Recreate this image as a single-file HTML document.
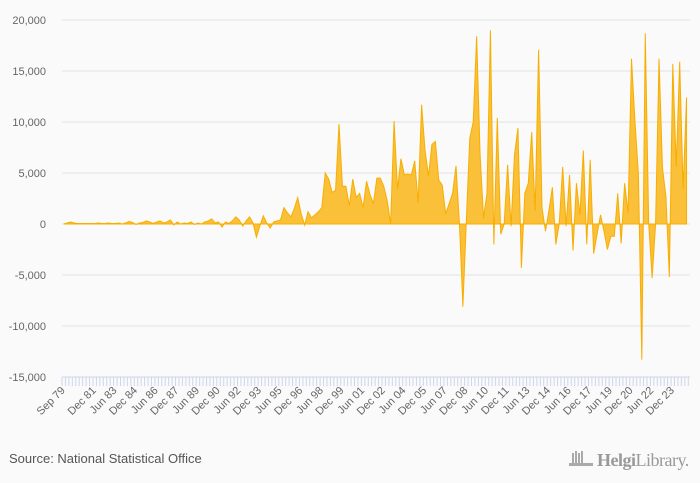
<!DOCTYPE html>
<html><head><meta charset="utf-8"><style>
body{margin:0;background:#fafafa;font-family:"Liberation Sans",sans-serif}
svg{display:block}
</style></head><body>
<svg id="chart" width="700" height="483" viewBox="0 0 700 483" xmlns="http://www.w3.org/2000/svg">
<rect width="700" height="483" fill="#fafafa"/>
<g id="grid"></g>
<g id="ylab"></g>
<path id="area" fill="#fbbd2e" fill-opacity="0.95" stroke="#f7ae00" stroke-width="1"/>
<g id="xaxis"></g>
<text x="9" y="463" font-size="13" fill="#555">Source: National Statistical Office</text>
<g>
<g fill="#aaa"><rect x="572" y="453" width="2" height="11"/><rect x="575" y="451" width="2" height="13"/><rect x="578" y="453" width="2" height="11"/><rect x="581" y="451" width="2" height="13"/><rect x="569" y="463" width="24" height="3"/></g>
<text x="597" y="466" font-size="18" fill="#999" font-family="Liberation Serif,serif" letter-spacing="-0.5"><tspan font-weight="bold">Helgi</tspan>Library.</text>
</g>
</svg>
<script>
const values=[0,100,200,100,50,50,50,50,50,50,100,50,50,100,50,50,100,0,100,250,150,-50,100,150,300,200,50,200,300,100,200,400,-100,200,0,100,50,200,-50,100,0,200,300,500,100,200,-300,200,50,300,700,400,-200,300,700,100,-1300,-200,800,100,-400,200,300,400,1600,1100,700,1500,2600,1000,-100,1200,600,900,1200,1600,5000,4400,3100,3300,9800,3700,3700,1800,4400,2600,3000,1600,4200,2900,2000,4500,4500,3700,2300,0,10100,3400,6400,4800,4900,4800,6200,2100,11700,7200,4700,7800,8100,4300,3800,1000,2000,3000,5700,0,-8100,300,8400,10000,18400,6800,600,3000,19000,-2000,10400,-1000,0,5800,-200,6800,9400,-4300,3000,4000,9000,1300,17100,1600,-700,1300,3600,-2000,0,5600,-200,4800,-2600,4000,900,7200,-2000,6300,-2900,-1000,900,-700,-2500,-1200,-1200,3000,-1900,4000,1100,16200,10100,4900,-13300,18700,0,-5300,0,16200,5500,2700,-5200,15700,5600,15900,3400,12400];
const yTicks=[-15000,-10000,-5000,0,5000,10000,15000,20000];
const yTickLabels=["-15,000","-10,000","-5,000","0","5,000","10,000","15,000","20,000"];
const months=["Sep","Dec","Mar","Jun"];
const NS="http://www.w3.org/2000/svg";
const L=62,R=690,T=20,B=377,ymin=-15000,ymax=20000;
const n=values.length;
const step=(R-L)/(n+0.5);
function xs(i){return L+step*(i+0.5);}
function ys(v){return B-(v-ymin)/(ymax-ymin)*(B-T);}
function mk(tag,attrs,parent){const e=document.createElementNS(NS,tag);for(const k in attrs)e.setAttribute(k,attrs[k]);parent.appendChild(e);return e;}
const grid=document.getElementById('grid'),ylab=document.getElementById('ylab'),xa=document.getElementById('xaxis');
yTicks.forEach((t,k)=>{
 if(t!==ymin){const g=mk('line',{x1:L,x2:R,y1:ys(t),y2:ys(t),stroke:'#e3e3e3','stroke-width':1},grid);
 
 }
 const tx=mk('text',{x:46,y:ys(t)+4,'text-anchor':'end','font-size':11,fill:'#666'},ylab);
 tx.textContent=yTickLabels[k];
 
 
});
let d='M'+xs(0)+','+ys(0);
values.forEach((v,i)=>{d+=' L'+xs(i).toFixed(2)+','+ys(v).toFixed(2);});
d+=' L'+xs(n-1)+','+ys(0)+' Z';
document.getElementById('area').setAttribute('d',d);
const al=mk('line',{x1:L,x2:R,y1:B,y2:B,stroke:'#ccd6eb'},xa);


for(let i=0;i<=n;i++){const x=L+step*i;
 const tk=mk('line',{x1:x,x2:x,y1:B,y2:B+9,stroke:'#ccd6eb'},xa);
 
 }
for(let i=0;i<n;i++){
 if(i===0||(i>=9&&(i-9)%6===0)){
  const q=i%4;
  const yr=1979+Math.floor(i/4)+(q>=2?1:0);const m=months[q];
  const x=xs(i)+2,y=B+14;
  const tx=mk('text',{x:x,y:y,'text-anchor':'end','font-size':11,fill:'#666',transform:'rotate(-45 '+x+' '+y+')'},xa);
  tx.textContent=m+' '+String(yr%100).padStart(2,'0');
  
  
 }
}
</script>
</body></html>
